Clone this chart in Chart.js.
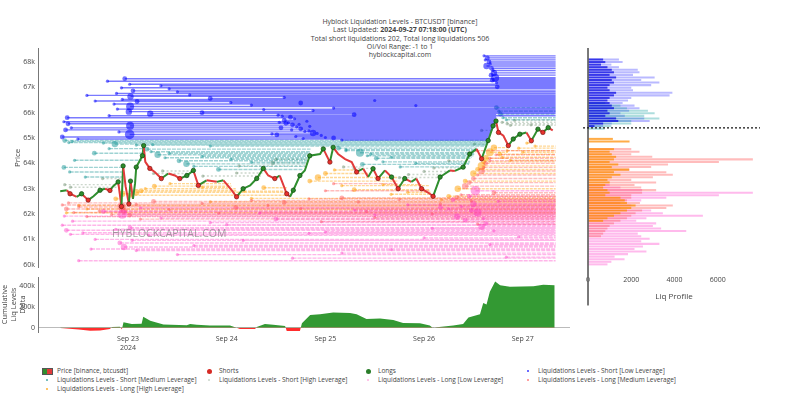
<!DOCTYPE html>
<html>
<head>
<meta charset="utf-8">
<script src="https://cdn.jsdelivr.net/npm/chart.js@4.4.1/dist/chart.umd.min.js"></script>
<style>
  body { margin: 0; background: #fff; font-family: "Open Sans", sans-serif; }
  #wrap { position: relative; width: 800px; height: 400px; overflow: hidden; }
  #wrap canvas { position: absolute; }
  #title { position: absolute; left: 0; top: 18px; width: 800px; text-align: center;
           font-size: 7px; line-height: 8.3px; color: #444; }
  #watermark { position: absolute; left: 112px; top: 226px; font-size: 10.5px;
               color: rgba(110,110,110,0.6); pointer-events: none; }
  #legend { position: absolute; left: 41px; top: 366px; display: grid;
            grid-template-columns: 162px 159px 160px 200px; font-size: 6.5px;
            line-height: 9px; color: #444; }
  #legend .mk { display: inline-block; width: 12px; text-align: center; margin-right: 4px; }
  #legend .dot { display: inline-block; border-radius: 50%; vertical-align: middle; }
</style>
</head>
<body>
<div id="wrap">
  <div id="title">
    Hyblock Liquidation Levels - BTCUSDT [binance]<br>
    Last Updated: <b>2024-09-27 07:18:00 (UTC)</b><br>
    Total short liquidations 202, Total long liquidations 506<br>
    OI/Vol Range: -1 to 1<br>
    hyblockcapital.com
  </div>
  <canvas id="main" width="580" height="275" style="left:0;top:0"></canvas>
  <canvas id="delta" width="580" height="90" style="left:0;top:270px"></canvas>
  <canvas id="profile" width="220" height="310" style="left:580px;top:0"></canvas>
  <div id="watermark">HYBLOCKCAPITAL.COM</div>
  <div id="legend"></div>
</div>
<script>
// hours since Sep 23 00:00 UTC, prices in thousands of USD
const X_MIN = -21.9, X_MAX = 107.5;
const P_MIN = 59.88, P_MAX = 68.55;
const currentPrice = 65.43;

const dayTicks = [0, 24, 48, 72, 96];
const dayLabels = [["Sep 23", "2024"], "Sep 24", "Sep 25", "Sep 26", "Sep 27"];
const priceTicks = [60, 61, 62, 63, 64, 65, 66, 67, 68];
const deltaTicks = [0, 200, 400];
const profileTicks = [0, 2000, 4000, 6000];

const priceHours = [-16.5,-14.9,-14.1,-12.5,-11.3,-9.7,-8.4,-6.8,-5.6,-4.4,-3.6,-2.4,-1.6,-1.2,-0.6,0.2,0.6,1.2,1.7,2.0,3.5,3.8,4.2,5.3,6.5,8.1,9.8,11.4,12.6,14.3,15.9,17.1,19.1,21.6,23.2,25.2,26.4,28.0,29.7,31.3,32.9,34.1,35.7,36.9,38.6,39.4,40.2,41.8,43.0,44.2,46.7,47.5,49.1,49.9,51.1,52.8,54.4,55.6,57.2,58.4,59.6,60.8,62.5,64.1,65.7,67.3,68.9,70.1,71.4,73.4,74.2,75.9,78.3,79.5,81.5,83.1,84.8,86.0,87.6,88.8,89.5,90.1,91.3,92.5,93.7,95.3,96.9,98.1,99.7,100.9,102.2,103.3];
const priceValues = [62.90,62.94,62.80,62.68,62.80,62.55,62.70,62.94,63.00,62.93,63.10,63.27,62.30,63.90,63.10,62.40,63.30,62.60,63.20,63.85,64.30,64.70,64.06,63.80,63.66,63.40,63.60,63.52,63.40,63.52,63.72,63.13,63.33,63.27,63.33,62.94,62.68,63.00,63.13,63.40,63.80,63.52,63.40,63.52,62.80,62.68,62.94,63.52,63.72,64.30,64.37,64.57,64.05,64.63,64.37,64.17,64.05,63.66,63.79,63.46,63.79,63.40,63.72,63.46,63.00,63.40,63.27,63.40,63.00,62.80,62.70,63.46,63.72,63.70,63.85,64.37,64.57,64.18,64.90,65.48,65.67,65.22,65.09,64.70,64.96,65.15,65.22,64.89,65.35,65.22,65.41,65.30];

const shortsHours = [-14.1,-9.7,-4.4,-1.6,0.2,5.3,8.1,12.6,17.1,26.4,35.7,38.6,49.1,55.6,60.8,65.7,71.4,74.2,86.0,90.1,92.5,98.1,100.9];
const shortsPrices = [62.80,62.55,62.93,62.30,62.40,63.80,63.40,63.40,63.13,62.68,63.40,62.80,64.05,63.66,63.40,63.00,63.00,62.70,64.18,65.22,64.70,64.89,65.22];
const longsHours = [-11.3,-6.8,-2.4,-1.2,0.6,2.0,3.5,3.8,14.3,15.9,28.0,31.3,32.9,40.2,41.8,44.2,47.5,49.9,59.6,64.1,67.3,75.9,81.5,83.1,87.6,88.8,89.5,93.7,95.3,99.7,102.2];
const longsPrices = [62.80,62.94,63.27,63.90,63.30,63.85,64.30,64.70,63.52,63.72,63.00,63.40,63.80,62.94,63.52,64.30,64.57,64.63,63.79,63.46,63.40,63.46,63.85,64.37,64.90,65.48,65.67,64.96,65.15,65.35,65.41];

// liquidation levels: [start hour, end hour, price, dot size]
const shortLowLevels = [
  [86.6,104,68.24,2],[87.4,104,68.16,3],[86.9,104,68.08,2],[87.8,104,68.00,3],[88.1,104,67.92,2],[87.2,104,67.84,4],[88.4,104,67.75,3],
  [88.8,104,67.66,2],[89.0,104,67.57,4],[88.3,104,67.48,3],[89.3,104,67.38,5],[88.6,104,67.28,3],[89.6,104,67.18,2],[89.8,104,67.02,3],
  [-0.8,104,67.34,3],[0.4,104,67.12,2],[-1.6,104,66.98,2],[1.2,104,66.86,3],[-2.8,104,66.76,2],[0.6,104,66.64,4],[-1.4,104,66.52,2],
  [2.2,104,66.44,3],[-3.4,104,66.34,2],[0.5,104,66.24,5],[-2.6,104,66.14,2],[0.2,104,66.04,4],[5.4,104,65.96,4],[-4.6,104,65.88,2],
  [38,104,66.60,2],[42,104,66.38,3],[50,104,66.18,2],[60,104,66.48,2],[45,104,66.08,2],[70,104,66.28,2],
  [10,104,66.94,2],[15,104,66.70,2],[20,104,66.56,3],[25,104,66.40,2],[30,104,66.30,2],[33,104,66.12,2],[-5,104,67.24,2],
  [8,104,67.06,2],[12,104,66.82,2],[18,104,66.00,3],[-10,104,66.68,2],[-8,104,66.46,2],
  [-14.8,89.6,65.80,3],[55,89.5,65.92,3],[36.5,89.5,65.90,2],[37.5,89.5,65.86,2],[39.5,89.4,65.82,3],[40.5,89.4,65.76,2],
  [-15.6,89.2,65.64,2],[-14.6,89.4,65.56,3],[0.5,89.3,65.48,5],[-13.8,89.0,65.40,2],[-15.2,88.7,65.32,3],[-2.2,88.3,65.24,2],[0.4,88.2,65.14,6],
  [-16.0,87.9,65.04,3],[-12.2,87.7,64.96,2],[38,89.3,65.70,3],[39,89.1,65.60,2],[40,88.9,65.52,3],[41,88.6,65.44,2],[42,88.5,65.36,3],
  [44,88.4,65.28,2],[45,88.2,65.20,4],[47,88.0,65.10,2],[50,87.8,65.00,3],[52,87.7,64.92,2],
  [43.5,89.3,65.66,2],[36.8,89.0,65.62,2],[38.4,88.9,65.58,3],[41.6,88.8,65.54,2],[44.2,88.6,65.46,2],[37.2,88.5,65.40,3],[39.8,88.4,65.32,2],
  [43.0,88.3,65.26,2],[46.0,88.2,65.18,2],[36.2,88.1,65.12,3],[40.8,88.0,65.06,2],[48.0,87.8,65.02,2],[42.6,87.7,64.98,2],[35.0,88.0,65.16,2]
];
const shortMedLevels = [
  [-15.4,87.6,64.90,3],[-14.4,87.4,64.82,2],[-3.2,87.2,64.76,4],[2.0,87.0,64.72,2],
  [-13.6,87.4,64.86,2],[-6.0,87.3,64.80,2],[6.0,87.1,64.74,2],[20.0,86.8,64.68,2],
  [-15.6,-1.4,63.84,3],[-14.2,-1.3,63.66,2],[-10.4,-1.5,63.46,2],[-13.0,3.4,64.12,2],[-8.2,3.7,64.40,3],[-4.6,3.8,64.58,2],
  [4.6,44.4,64.56,3],[5.6,44.2,64.46,2],[7.2,44.1,64.34,4],[9.0,44.0,64.22,2],[12.4,43.6,64.10,3],[14.2,43.4,63.98,4],[16.0,43.2,63.88,2],[22.0,42.4,63.76,3],
  [10.0,44.2,64.40,2],[18.0,43.8,64.28,2],[25.0,43.5,64.16,2],[30.0,43.3,64.04,2],
  [51.2,84.8,64.60,3],[53.0,84.6,64.50,2],[56.4,84.4,64.42,5],[58.2,84.0,64.30,2],[60.4,83.4,64.20,3],[62.0,83.2,64.06,2],[57.0,82.9,63.96,3],[66.2,82.2,63.86,2],
  [53.0,84.7,64.54,2],[59.0,84.2,64.36,2],[64.0,83.6,64.24,2],[70.0,83.0,64.00,2],
  [89.6,104,66.20,3],[90.2,104,66.06,2],[90.6,104,65.94,3],[91.2,104,65.80,2],[92.0,104,65.72,2]
];
const shortHighLevels = [
  [-15.4,-2.4,63.16,2],[-14.0,-2.5,63.06,2],[-6.2,-1.2,63.40,2],[6.2,14.6,63.60,2],[8.4,15.6,63.70,2],[18.2,32.6,63.50,2],[26.4,32.8,63.62,2],
  [27.0,43.0,63.90,2],[35.2,43.6,64.02,3],[36.0,44.0,64.16,2],[52.4,57.4,63.86,2],[55.0,59.6,63.80,2],[66.0,75.8,63.44,2],[68.2,76.2,63.56,2],
  [72.0,79.0,63.68,2],[74.4,81.4,63.82,2],[78.0,83.0,64.10,2],[84.2,87.6,64.76,2],[86.0,88.6,65.30,2],[91.0,104,65.62,2],[92.2,104,65.56,2],
  [93.0,104,65.50,2],[94.0,104,65.70,2],[98.0,104,65.52,2]
];
const longLowLevels = [
  [-16.0,104,61.56,2],[-15.0,104,61.36,3],[-14.0,104,61.20,2],[-8.0,104,61.00,2],[-2.0,104,60.86,3],[-1.0,104,60.70,4],[0.5,104,61.46,3],
  [2.0,104,60.56,2],[5.0,104,61.16,2],[12.0,104,60.40,2],[20.0,104,61.66,2],[28.0,104,60.96,2],[36.0,104,61.80,3],[40.0,104,60.26,2],
  [48.0,104,61.30,2],[55.0,104,62.16,2],[64.0,104,60.60,2],[72.0,104,61.06,2],[76.0,104,62.26,3],[80.0,104,61.90,4],[82.0,104,61.76,3],
  [84.0,104,62.40,4],[85.0,104,62.06,5],[86.0,104,61.50,4],[87.0,104,61.62,3],[88.0,104,60.80,2],[90.0,104,62.50,2],[92.0,104,60.30,2],
  [95.0,104,61.10,2],[78.0,104,62.20,2],[-12.0,104,60.16,2],[84.5,104,62.92,6],[83.0,104,62.70,3],[-1.4,104,62.00,6],
  [-15.5,104,61.92,2],[-13.5,104,61.72,2],[-11.0,104,61.26,2],[-9.0,104,60.62,2],[-6.0,104,62.10,3],[-3.0,104,61.40,2],[1.0,104,60.96,2],
  [3.0,104,62.24,2],[8.0,104,61.84,2],[16.0,104,60.76,2],[24.0,104,61.58,2],[32.0,104,62.04,2],[44.0,104,61.24,2],[52.0,104,60.46,2],
  [60.0,104,61.96,2],[68.0,104,62.36,2],[74.0,104,61.44,2],[79.0,104,62.56,3],[81.0,104,62.30,2],[83.5,104,62.14,3],[86.5,104,61.82,2],[89.0,104,61.34,2]
];
const longMedLevels = [
  [-16.0,104,62.36,2],[-15.0,104,62.20,3],[-13.2,104,62.06,2],[-10.0,104,61.90,2],[-1.6,104,62.30,5],[-1.0,104,62.14,4],[0.4,104,61.96,3],
  [3.0,104,61.80,2],[6.2,104,62.50,3],[18.0,104,62.42,2],[26.2,104,62.26,3],[30.0,104,62.54,2],[38.0,104,62.46,3],[44.0,104,62.60,2],
  [47.0,104,61.70,2],[52.0,104,62.64,3],[58.0,104,62.10,2],[74.0,104,62.00,2],[80.0,104,62.66,3],[82.0,104,63.10,4],[84.0,104,63.40,3],
  [86.0,104,63.70,4],[87.0,104,64.00,3],[88.0,104,64.20,2],[84.6,104,64.50,2],[89.0,104,62.84,3],[85.0,104,61.60,2],[60.0,104,61.86,2],
  [48.0,73.4,62.92,2],[50.0,65.6,63.20,2],
  [-14.5,104,62.44,2],[-12.0,104,62.28,2],[-7.0,104,62.12,2],[-4.0,104,61.98,2],[2.0,104,62.38,2],[10.0,104,62.18,2],[22.0,104,62.04,2],
  [34.0,104,62.34,2],[42.0,104,62.22,2],[56.0,104,62.48,2],[66.0,104,62.58,2],[76.0,104,62.40,2],[81.0,104,62.76,2],[83.0,104,63.24,3],
  [85.0,104,63.54,2],[86.5,104,63.84,2],[88.0,104,64.10,2],[89.5,104,64.34,2],[83.5,104,62.52,2]
];
const longHighLevels = [
  [-12.0,104,62.34,2],[-3.0,-1.6,62.60,3],[-1.4,0.2,62.80,4],[0.6,38.6,62.74,3],[2.0,38.6,62.86,4],[3.2,26.4,62.92,3],[4.2,26.2,63.00,2],
  [6.4,25.2,63.10,3],[10.2,25.0,63.20,2],[18.0,24.8,63.06,2],[28.2,38.4,62.90,2],[33.0,38.6,63.04,3],[44.2,65.7,63.30,3],[46.2,65.6,63.44,4],
  [48.0,58.4,63.60,3],[50.2,55.6,63.74,2],[52.0,73.4,63.12,2],[55.0,73.4,62.96,3],[62.0,71.4,63.16,2],[68.0,73.6,62.86,2],[76.2,104,62.56,2],
  [78.0,104,62.70,3],[80.2,104,63.00,4],[82.0,104,63.30,3],[84.0,104,63.60,4],[86.0,104,63.90,5],[87.0,92.5,64.20,4],[88.0,92.4,64.44,5],
  [89.0,92.5,64.62,4],[90.4,104,64.36,3],[92.2,104,64.50,2],[95.0,104,64.60,2],[97.0,98.0,64.80,2],[-15.0,104,62.05,2],[20.0,104,62.48,2],
  [85.0,104,63.76,3],[86.5,104,64.06,3],[91.0,104,64.24,2],[93.0,104,64.12,2],[96.0,104,64.44,2],[99.0,104,64.68,2],[-10.0,104,62.20,2],
  [30.0,104,62.62,2],[64.0,73.4,62.78,2]
];

// cumulative liq levels delta, thousands
const deltaHours = [-16.5,-12,-9.2,-6.8,-4.4,-3.9,-2.0,-1.5,-1.1,0.9,3.3,3.7,5.4,8.6,14.3,15.1,16.7,19.9,24.8,26.4,27.2,30.9,31.3,33.3,35.3,38.2,38.6,41.8,42.3,44.3,46.7,49.9,54.0,55.6,58.0,61.3,64.5,66.9,71.0,73.4,74.2,75.1,79.1,81.5,82.8,85.6,86.4,87.2,88.0,89.3,90.5,92.9,98.6,101.0,103.8];
const deltaValues = [-3,-15,-28,-25,-12,8,10,-14,52,37,38,105,68,31,25,37,28,22,22,0,-12,-12,8,37,28,18,-31,-31,43,123,129,145,142,129,83,89,74,46,43,22,-3,6,22,37,98,129,237,222,345,443,406,391,397,412,406];

// liq profile
const shortBins = [68.1,68.0,67.9,67.8,67.7,67.6,67.5,67.4,67.3,67.2,67.1,67.0,66.9,66.8,66.7,66.6,66.5,66.4,66.3,66.2,66.1,66.0,65.9,65.8,65.7,65.6,65.5,65.4];
const profShortLow = [1430,1600,1080,1430,2300,2380,2080,3080,2460,3300,2920,2000,2080,3900,3770,2000,1850,1600,2150,2380,1900,1500,1700,2600,2850,1100,700,0];
const profShortMed = [0,0,0,0,0,0,0,0,0,0,0,0,0,0,0,0,0,800,1500,1800,2770,3080,2600,3300,2000,2000,1080,770];
const profShortHigh = [700,800,600,900,1100,1200,1000,1300,1100,1200,1000,900,1000,1300,1200,1000,900,1000,1100,1200,900,1000,800,1300,1400,700,300,0];
const longBins = [65.0,64.9,64.8,64.7,64.6,64.5,64.4,64.3,64.2,64.1,64.0,63.9,63.8,63.7,63.6,63.5,63.4,63.3,63.2,63.1,63.0,62.9,62.8,62.7,62.6,62.5,62.4,62.3,62.2,62.1,62.0,61.9,61.8,61.7,61.6,61.5,61.4,61.3,61.2,61.1,61.0,60.9,60.8,60.7,60.6,60.5,60.4,60.3,60.2,60.1];
const profLongLow = [0,0,0,0,0,0,0,0,0,0,0,0,0,0,0,0,0,0,1000,1500,2500,7620,6050,3620,2460,1500,2000,1500,2920,3460,5310,2700,2230,3150,3000,3380,4540,2300,2460,2850,2460,3300,2540,2150,2700,1850,1230,1690,1080,900];
const profLongMed = [0,0,0,0,2000,2380,2000,2970,7620,6050,3700,2920,1920,3620,3920,3000,2000,3150,2150,2460,3150,2500,2000,2000,1800,2400,3920,3620,2500,2200,2000,1800,1500,1200,1000,900,800,700,600,0,0,0,0,0,0,0,0,0,0,0];
const profLongHigh = [1150,1920,0,0,1200,1000,1100,1300,1200,1000,1400,1100,1900,1200,1500,1100,900,1000,800,700,900,1000,800,1500,1700,1800,2200,2000,1800,1500,1200,900,700,0,0,0,0,0,0,0,0,0,0,0,0,0,0,0,0,0];

const FONT = { family: '"Open Sans", sans-serif', size: 7 };
const TEXT = "#444";
const UP = "#2f8f2f", DOWN = "#e23b3b";

function levelPoints(levels) {
  const pts = [];
  levels.forEach(([s, e, p, r]) => {
    pts.push({ x: s, y: p, r: r });
    pts.push({ x: e, y: p, r: 0 });
    pts.push({ x: e, y: null, r: 0 });
  });
  return pts;
}

function levelDataset(label, levels, line, dot, dash, mark) {
  return {
    label: label,
    data: levelPoints(levels),
    borderColor: line,
    borderWidth: 1.4,
    borderDash: dash,
    backgroundColor: dot,
    pointBackgroundColor: dot,
    pointBorderWidth: 0,
    pointRadius: (c) => (c.raw && c.raw.r) ? c.raw.r * 0.8 : 0,
    spanGaps: false,
    order: 10,
    legendMark: mark
  };
}

const zip = (xs, ys) => xs.map((x, i) => ({ x: x, y: ys[i] }));

const mainChart = new Chart(document.getElementById("main"), {
  type: "line",
  data: {
    datasets: [
      {
        label: "Price [binance, btcusdt]",
        data: zip(priceHours, priceValues),
        borderWidth: 2,
        pointRadius: 0,
        segment: { borderColor: (c) => c.p1.parsed.y >= c.p0.parsed.y ? UP : DOWN },
        borderColor: UP,
        order: 2,
        legendMark: "candle"
      },
      {
        label: "Shorts",
        data: zip(shortsHours, shortsPrices),
        showLine: false,
        pointRadius: 2.2,
        pointBackgroundColor: "#e8322c",
        pointBorderColor: "#7a1414",
        pointBorderWidth: 0.7,
        order: 1,
        legendMark: { color: "#d62a24", size: 5 }
      },
      {
        label: "Longs",
        data: zip(longsHours, longsPrices),
        showLine: false,
        pointRadius: 2.2,
        pointBackgroundColor: "#2c8c2c",
        pointBorderColor: "#0e4a0e",
        pointBorderWidth: 0.7,
        order: 1,
        legendMark: { color: "#2a7d2a", size: 5 }
      },
      levelDataset("Liquidations Levels - Short [Low Leverage]", shortLowLevels,
        "rgba(0,0,255,0.52)", "rgba(0,0,255,0.55)", [], { color: "#3a3aff", size: 2 }),
      levelDataset("Liquidations Levels - Short [Medium Leverage]", shortMedLevels,
        "rgba(0,140,140,0.38)", "rgba(0,140,140,0.45)", [4, 1], { color: "#4aa8a8", size: 2 }),
      levelDataset("Liquidations Levels - Short [High Leverage]", shortHighLevels,
        "rgba(120,150,120,0.38)", "rgba(120,150,120,0.5)", [2, 2], { color: "#c8d4c8", size: 2 }),
      levelDataset("Liquidations Levels - Long [Low Leverage]", longLowLevels,
        "rgba(255,40,190,0.34)", "rgba(255,40,190,0.4)", [4, 1], { color: "#ffb0e0", size: 2 }),
      levelDataset("Liquidations Levels - Long [Medium Leverage]", longMedLevels,
        "rgba(255,60,60,0.34)", "rgba(255,60,60,0.4)", [4, 1], { color: "#ff8080", size: 2 }),
      levelDataset("Liquidations Levels - Long [High Leverage]", longHighLevels,
        "rgba(255,160,0,0.42)", "rgba(255,160,0,0.5)", [3, 1], { color: "#ffb030", size: 2 })
    ]
  },
  options: {
    responsive: false,
    animation: false,
    layout: { padding: { left: 0, right: 10, top: 48, bottom: 3 } },
    plugins: { legend: { display: false }, tooltip: { enabled: false } },
    scales: {
      x: { type: "linear", display: false, min: X_MIN, max: X_MAX },
      y: {
        type: "linear",
        min: P_MIN,
        max: P_MAX,
        afterFit: (s) => { s.width = 38; },
        afterBuildTicks: (s) => { s.ticks = priceTicks.map((v) => ({ value: v })); },
        ticks: { callback: (v) => v + "k", font: FONT, color: TEXT, padding: 3 },
        grid: { display: false, drawTicks: false },
        border: { color: "#777" },
        title: { display: true, text: "Price", color: TEXT, font: { family: FONT.family, size: 8 }, padding: { top: 13, bottom: 0 } }
      }
    }
  }
});

new Chart(document.getElementById("delta"), {
  type: "line",
  data: {
    datasets: [{
      label: "Cumulative Liq Levels Delta",
      data: zip(deltaHours, deltaValues),
      borderWidth: 0,
      pointRadius: 0,
      fill: { target: "origin", above: "rgb(51,153,51)", below: "rgb(255,45,45)" }
    }]
  },
  options: {
    responsive: false,
    animation: false,
    layout: { padding: { left: 0, right: 10, top: 5, bottom: 0 } },
    plugins: { legend: { display: false }, tooltip: { enabled: false } },
    scales: {
      x: {
        type: "linear",
        min: X_MIN,
        max: X_MAX,
        afterFit: (s) => { s.height = 28; },
        afterBuildTicks: (s) => { s.ticks = dayTicks.map((v) => ({ value: v })); },
        ticks: { callback: (v, i) => dayLabels[i], font: FONT, color: TEXT, padding: 3, maxRotation: 0, autoSkip: false },
        grid: { display: false, drawTicks: false },
        border: { display: false }
      },
      y: {
        type: "linear",
        min: -40,
        max: 483,
        afterFit: (s) => { s.width = 38; },
        afterBuildTicks: (s) => { s.ticks = deltaTicks.map((v) => ({ value: v })); },
        ticks: { callback: (v) => v === 0 ? "0" : v + "k", font: FONT, color: TEXT, padding: 3 },
        grid: { color: (c) => c.tick && c.tick.value === 0 ? "#bbb" : "rgba(0,0,0,0)", drawTicks: false },
        border: { color: "#777" },
        title: {
          display: true,
          text: ["Cumulative", "Liq Levels", "Delta"],
          color: TEXT,
          font: { family: FONT.family, size: 7.5, lineHeight: 1.15 },
          padding: { top: 1, bottom: 0 }
        }
      }
    }
  }
});

function profileBars(bins, values, color, order) {
  return {
    type: "bar",
    indexAxis: "y",
    data: bins.map((p, i) => ({ x: values[i], y: p })).filter((d) => d.x > 0),
    backgroundColor: color,
    borderWidth: 0,
    grouped: false,
    barPercentage: 0.8,
    categoryPercentage: 1,
    order: order
  };
}

new Chart(document.getElementById("profile"), {
  type: "bar",
  data: {
    datasets: [
      profileBars(shortBins, profShortLow, "rgba(70,70,255,0.38)", 5),
      profileBars(shortBins, profShortMed, "rgba(0,150,150,0.32)", 4),
      profileBars(shortBins, profShortHigh, "rgba(0,0,225,0.7)", 3),
      profileBars(longBins, profLongLow, "rgba(255,90,210,0.42)", 5),
      profileBars(longBins, profLongMed, "rgba(255,80,80,0.38)", 4),
      profileBars(longBins, profLongHigh, "rgba(255,140,0,0.72)", 3),
      {
        type: "line",
        data: [{ x: 0, y: P_MAX }, { x: 0, y: 58.5 }],
        borderColor: "#666",
        borderWidth: 1,
        pointRadius: 0,
        clip: false,
        order: 1
      },
      {
        type: "line",
        data: [{ x: -230, y: currentPrice }, { x: 7950, y: currentPrice }],
        borderColor: "#111",
        borderWidth: 1.2,
        borderDash: [2, 2],
        pointRadius: 0,
        clip: false,
        order: 0
      }
    ]
  },
  options: {
    responsive: false,
    animation: false,
    indexAxis: "y",
    layout: { padding: { left: 8, right: 40, top: 48, bottom: 0 } },
    plugins: { legend: { display: false }, tooltip: { enabled: false } },
    scales: {
      x: {
        type: "linear",
        min: 0,
        max: 7950,
        offset: false,
        afterFit: (s) => { s.height = 40; },
        afterBuildTicks: (s) => { s.ticks = profileTicks.map((v) => ({ value: v })); },
        ticks: { font: FONT, color: TEXT, padding: 6, maxRotation: 0, callback: (v) => String(v) },
        grid: { display: false, drawTicks: false },
        border: { display: false },
        title: { display: true, text: "Liq Profile", color: TEXT, font: { family: FONT.family, size: 8 }, padding: { top: 0, bottom: 8 } }
      },
      y: {
        type: "linear",
        min: P_MIN,
        max: P_MAX,
        offset: false,
        afterFit: (s) => { s.width = 0; },
        ticks: { display: false },
        grid: { display: false, drawTicks: false },
        border: { display: false }
      }
    }
  }
});

// legend built from the main chart's datasets
const legendEl = document.getElementById("legend");
mainChart.data.datasets.forEach((ds) => {
  const item = document.createElement("div");
  const mk = document.createElement("span");
  mk.className = "mk";
  if (ds.legendMark === "candle") {
    mk.innerHTML = '<span style="display:inline-block;width:9px;height:5px;vertical-align:middle;border:1px solid #555;background:linear-gradient(90deg,' + UP + ' 50%,' + DOWN + ' 50%)"></span>';
  } else {
    const s = ds.legendMark.size;
    mk.innerHTML = '<span class="dot" style="width:' + s + 'px;height:' + s + 'px;background:' + ds.legendMark.color + '"></span>';
  }
  item.appendChild(mk);
  item.appendChild(document.createTextNode(ds.label));
  legendEl.appendChild(item);
});
</script>
</body>
</html>
